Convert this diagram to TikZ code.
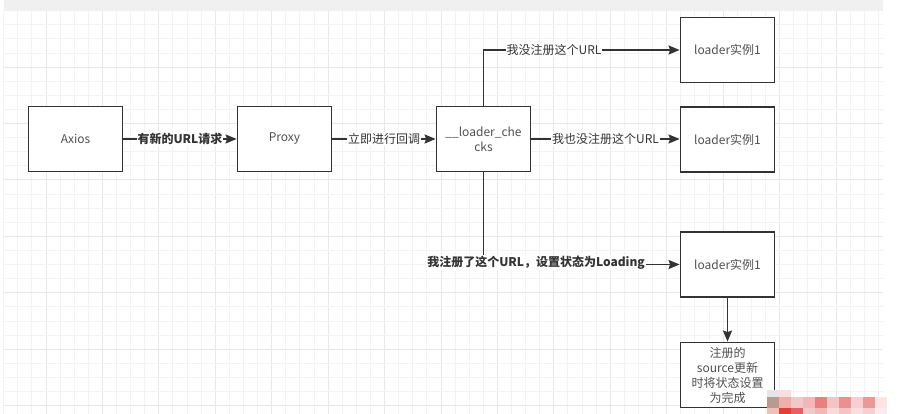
\documentclass[tikz,border=0pt]{standalone}
\usepackage{fontspec}
\setmainfont{Noto Sans CJK SC}
\usetikzlibrary{arrows.meta}
\definecolor{boxc}{HTML}{333333}
\definecolor{txt}{HTML}{333333}
\definecolor{btxt}{HTML}{505050}
\definecolor{gminor}{HTML}{F3F3F3}
\definecolor{gmajor}{HTML}{E8E8E8}
\definecolor{band}{HTML}{F0F0F0}
\definecolor{mzA}{HTML}{E8E4E4}
\definecolor{mzB}{HTML}{F8DEDE}
\begin{document}
\begin{tikzpicture}[x=1pt,y=-1pt,
  stepbox/.style={draw=boxc, line width=1.8pt, fill=white, minimum width=94pt, minimum height=65pt, inner sep=2pt, font=\fontsize{12}{15}\selectfont, text=btxt, align=center},
  lbl/.style={fill=white, inner sep=1pt, font=\fontsize{12}{15}\selectfont, text=txt},
  blbl/.style={lbl, font=\fontsize{12}{15}\selectfont\bfseries},
  arr/.style={draw=boxc, line width=1.8pt, -{Stealth[length=11pt,width=9pt,inset=1.5pt]}}]
\useasboundingbox (0,0) rectangle (902,414);
\fill[white] (0,0) rectangle (902,414);
% grid
\foreach \k in {0,...,62}{
  \pgfmathsetmacro\xx{3.68+14.107*\k}
  \pgfmathtruncatemacro\m{mod(\k,4)}
  \ifnum\m=3 \draw[gmajor, line width=1pt] (\xx,10.7) -- (\xx,414);
  \else \draw[gminor, line width=1pt] (\xx,10.7) -- (\xx,414); \fi
}
\foreach \k in {0,...,28}{
  \pgfmathsetmacro\yy{10.7+14.107*\k}
  \pgfmathtruncatemacro\m{mod(\k,4)}
  \ifnum\m=0 \draw[gmajor, line width=1pt] (3.68,\yy) -- (883,\yy);
  \else \draw[gminor, line width=1pt] (3.68,\yy) -- (883,\yy); \fi
}
\fill[band] (3.68,0) rectangle (883,10.7);
% nodes
\node[stepbox] (axios) at (75.5,139) {Axios};
\node[stepbox] (proxy) at (284.5,139) {Proxy};
\node[stepbox] (checks) at (483.5,139) {\_\_loader\_che\\cks};
\node[stepbox] (l1) at (727.5,50) {loader实例1};
\node[stepbox] (l2) at (727.5,139.5) {loader实例1};
\node[stepbox] (l3) at (727.5,264.5) {loader实例1};
\node[stepbox] (fin) at (727.5,375) {注册的\\source更新\\时将状态设置\\为完成};
% edges
\draw[arr] (axios) -- node[blbl]{有新的URL请求} (proxy);
\draw[arr] (proxy) -- node[lbl]{立即进行回调} (checks);
\draw[arr] (checks.north) |- node[lbl, pos=0.68]{我没注册这个URL} (l1.west);
\draw[arr] (checks.east) -- node[lbl]{我也没注册这个URL} (checks.east -| l2.west);
\draw[arr] (checks.south) |- node[blbl, pos=0.634, yshift=2pt]{我注册了这个URL，设置状态为Loading} (l3.west);
\draw[arr] (l3) -- (fin);
% mosaic watermark
\fill[mzA] (767,390) rectangle (779,397);
\fill[mzB] (779,390) rectangle (791,397);
\foreach \x/\c in {767/B89A90,779/F0B0AA,791/F3C8C8,803/F0B8B8,815/E88080,827/F3C4C4,839/EA9090,851/F5D0D0,863/EC9898,875/FAE4E4}{
  \definecolor{mc}{HTML}{\c}
  \fill[mc] (\x,397) rectangle ++(12,11);
}
\foreach \x/\c in {767/F0C0B8,779/E04038,791/E86060,803/F3C8C8,815/F0B8B8,827/F8DADA,839/F3C4C4,851/F8DEDE,863/F5D0D0,875/FBECEC}{
  \definecolor{mc}{HTML}{\c}
  \fill[mc] (\x,408) rectangle ++(12,6);
}
\end{tikzpicture}
\end{document}
